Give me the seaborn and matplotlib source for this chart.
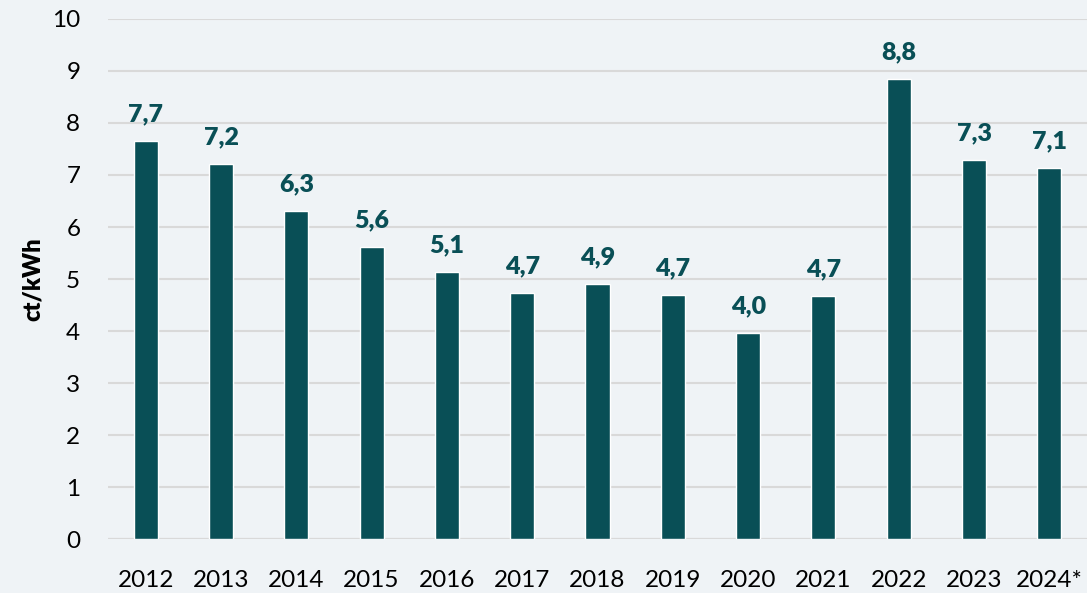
import seaborn as sns
import matplotlib.pyplot as plt
import pandas as pd

jahre = ['2012', '2013', '2014', '2015', '2016', '2017', '2018', '2019', '2020', '2021', '2022', '2023', '2024*']
preise = [7.66, 7.21, 6.31, 5.62, 5.13, 4.74, 4.91, 4.69, 3.97, 4.67, 8.84, 7.29, 7.14]
beschriftung = ['7,7', '7,2', '6,3', '5,6', '5,1', '4,7', '4,9', '4,7', '4,0', '4,7', '8,8', '7,3', '7,1']

df = pd.DataFrame({'Jahr': jahre, 'Preis': preise})

hintergrund = '#eff3f6'
teal = '#094f56'

sns.set_style('whitegrid')
plt.rcParams['font.family'] = ['Lato', 'DejaVu Sans']

fig = plt.figure(figsize=(10.87, 5.93), dpi=100, facecolor=hintergrund)
ax = fig.add_axes([0.0994, 0.091, 0.9006, 0.877])
ax.set_facecolor(hintergrund)

sns.barplot(data=df, x='Jahr', y='Preis', color=teal, width=0.32, saturation=1, ax=ax)

for i, (wert, text) in enumerate(zip(preise, beschriftung)):
    ax.text(i, wert + 0.3, text, ha='center', va='bottom', fontsize=18,
            fontweight='heavy', color=teal)

ax.set_ylim(0, 10)
ax.set_xlim(-0.5, 12.5)
ax.set_yticks(range(0, 11))
ax.grid(axis='y', color='#d9d9d9', linewidth=1.5)
ax.grid(axis='x', visible=False)
ax.set_axisbelow(True)
for s in ax.spines.values():
    s.set_visible(False)
ax.axhline(0, color='#d0d0d0', linewidth=1.5, zorder=0)

ax.set_xlabel('')
ax.set_ylabel('ct/kWh', fontsize=17, fontweight='heavy', color='black', labelpad=6)
ax.tick_params(axis='both', length=0, labelsize=17.5, colors='black')
ax.tick_params(axis='y', pad=20)
ax.tick_params(axis='x', pad=22)

plt.savefig('out.png', dpi=100, facecolor=hintergrund)
